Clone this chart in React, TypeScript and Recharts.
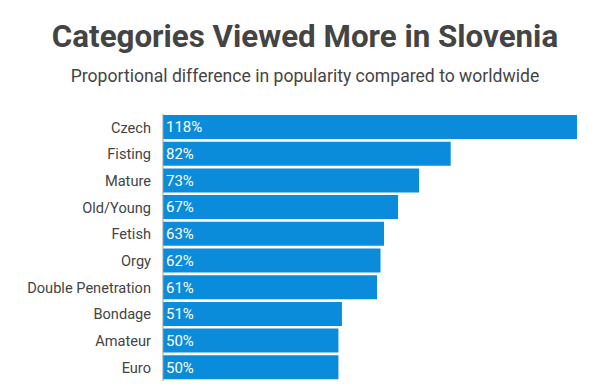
import React from "react";
import { BarChart, Bar, XAxis, YAxis, LabelList } from "recharts";

const categories = [
  "Czech",
  "Fisting",
  "Mature",
  "Old/Young",
  "Fetish",
  "Orgy",
  "Double Penetration",
  "Bondage",
  "Amateur",
  "Euro",
];
const values = [118, 82, 73, 67, 63, 62, 61, 51, 50, 50];

const data = categories.map((name, i) => ({ name, value: values[i] }));

const FONT = "Roboto, 'Noto Sans', sans-serif";

export default function App() {
  return (
    <div
      style={{
        position: "absolute",
        left: 0,
        top: 0,
        width: 610,
        height: 389,
        background: "#fff",
        fontFamily: FONT,
      }}
    >
      <div
        style={{
          position: "absolute",
          top: 18,
          width: 610,
          textAlign: "center",
          fontSize: 31.3,
          fontWeight: 700,
          color: "#444",
        }}
      >
        Categories Viewed More in Slovenia
      </div>
      <div
        style={{
          position: "absolute",
          top: 66,
          width: 610,
          textAlign: "center",
          fontSize: 17.6,
          color: "#444",
        }}
      >
        Proportional difference in popularity compared to worldwide
      </div>
      <BarChart
        width={610}
        height={389}
        data={data}
        layout="vertical"
        margin={{ top: 114, right: 33, bottom: 8, left: 0 }}
        barSize={24}
        style={{ position: "absolute", left: 0, top: 0 }}
      >
        <XAxis type="number" domain={[0, 118]} hide />
        <YAxis
          type="category"
          dataKey="name"
          width={163}
          tickLine={false}
          axisLine={{ stroke: "#999" }}
          tickMargin={6}
          tick={{ fill: "#444", fontSize: 14.6, fontFamily: FONT }}
          interval={0}
        />
        <Bar dataKey="value" fill="#0b8cda" isAnimationActive={false}>
          <LabelList
            dataKey="value"
            position="insideLeft"
            offset={3}
            formatter={(v: number) => `${v}%`}
            style={{ fill: "#fff", fontSize: 15, fontFamily: FONT }}
          />
        </Bar>
      </BarChart>
    </div>
  );
}
